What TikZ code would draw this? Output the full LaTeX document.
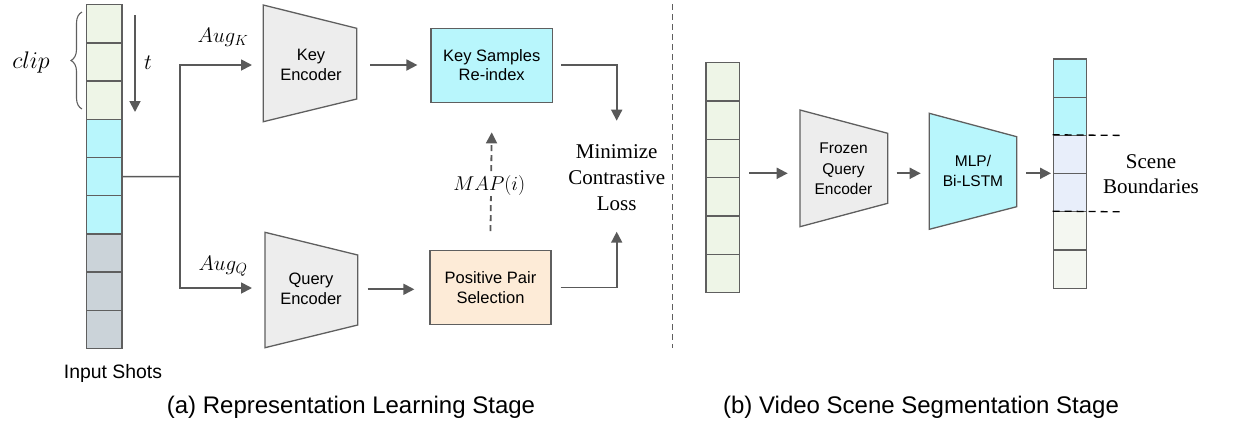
\RequirePackage{fix-cm}
\documentclass[tikz,border=0pt]{standalone}
\usepackage{fontspec}
\setmainfont{Liberation Serif}
\newfontfamily\sansf{Liberation Sans}
\usetikzlibrary{arrows.meta,decorations.pathreplacing}

\definecolor{edgegray}{HTML}{5F5F5F}
\definecolor{arrowgray}{HTML}{595959}
\definecolor{cellgreen}{HTML}{EEF5E7}
\definecolor{cellcyan}{HTML}{B8F6FC}
\definecolor{cellslate}{HTML}{CBD3D9}
\definecolor{cellblue}{HTML}{E8EEFA}
\definecolor{cellpale}{HTML}{F4F7F1}
\definecolor{encfill}{HTML}{EDEDED}
\definecolor{peach}{HTML}{FDEBD7}

\tikzset{
  cell/.style={draw=edgegray, line width=1.3pt, minimum width=33.5pt, minimum height=38.2pt, inner sep=0pt},
  enc/.style={draw=edgegray, line width=1.3pt, line join=miter},
  box/.style={draw=edgegray, line width=1.3pt, inner sep=0pt, align=center,
    font=\sansf\fontsize{16.5}{19.5}\selectfont},
  enclabel/.style={align=center, font=\sansf\fontsize{16.5}{19.5}\selectfont},
  arr/.style={draw=arrowgray, line width=1.8pt, -{Triangle[length=11pt,width=11pt]}},
  link/.style={draw=arrowgray, line width=1.6pt},
  serif/.style={align=center, font=\fontsize{21}{26}\selectfont},
  caption/.style={font=\sansf\fontsize{24}{28}\selectfont}
}

\begin{document}
\begin{tikzpicture}[x=1pt,y=-1pt]
\useasboundingbox (0,0) rectangle (1233,421);

% ---------- (a) representation learning ----------
% input shot column
\foreach \i/\c in {0/cellgreen,1/cellgreen,2/cellgreen,3/cellcyan,4/cellcyan,5/cellcyan,6/cellslate,7/cellslate,8/cellslate}
  \node[cell, fill=\c, minimum width=35.3pt] (in\i) at (104.3, 23.8+38.2*\i) {};
\node[font=\sansf\fontsize{19.4}{22}\selectfont] (inlabel) at (113,373) {Input Shots};

% clip brace and time arrow
\draw[edgegray, line width=1.1pt, decorate, decoration={brace, amplitude=11pt}] (82,109) -- (82,12);
\node[font=\fontsize{24}{26}\selectfont] (cliplabel) at (31,62) {$clip$};
\coordinate (t0) at (135,15);
\coordinate (t1) at (135,112);
\draw[arr] (t0) -- (t1);
\node[font=\fontsize{22}{24}\selectfont] (tlabel) at (148,63) {$t$};

% split into key / query branches
\coordinate (split) at (180,176.6);
\coordinate (kin) at (252,65);
\coordinate (qin) at (252,288);
\draw[link] (in4.east) -- (split);
\draw[arr] (split) |- (kin);
\draw[arr] (split) |- (qin);
\node[font=\fontsize{21}{24}\selectfont] (augk) at (223,37) {$Aug_K$};
\node[font=\fontsize{21}{24}\selectfont] (augq) at (223,266) {$Aug_Q$};

% key encoder
\draw[enc, fill=encfill] (263.3,5) -- (356.7,28.3) -- (356.7,99) -- (263.3,121.7) -- cycle;
\node[enclabel] (keyenc) at (311,65) {Key\\Encoder};
\coordinate (keyout) at (370,65);

% query encoder
\draw[enc, fill=encfill] (265,232.3) -- (357.7,255) -- (357.7,325) -- (265,347.7) -- cycle;
\node[enclabel] (qenc) at (311,289) {Query\\Encoder};
\coordinate (qout) at (367.7,289.3);

% key samples / positive pairs
\node[box, fill=cellcyan, minimum width=121.3pt, minimum height=74pt] (ksr) at (491.7,65.3) {Key Samples\\Re-index};
\node[box, fill=peach, minimum width=121pt, minimum height=73.6pt] (pps) at (490.5,287.5) {Positive Pair\\Selection};

\draw[arr] (keyout) -- ([xshift=-13pt]ksr.west |- keyout);
\draw[arr] (qout) -- ([xshift=-15pt]pps.west |- qout);

% MAP(i) dashed link
\draw[arr, dash pattern=on 6pt off 4pt] ([yshift=19pt]pps.north) -- ([yshift=-29.4pt]ksr.south);
\node[fill=white, inner sep=1pt, font=\fontsize{20}{22}\selectfont] (map) at (489.3,185) {$MAP(i)$};

% contrastive loss
\node[serif] (loss) at (616.7,178) {Minimize\\Contrastive\\Loss};
\coordinate (losstop) at (616.7,120.7);
\coordinate (lossbot) at (616.7,231.7);
\draw[arr] ([xshift=8pt]ksr.east) -| (losstop);
\draw[arr] ([xshift=9pt]pps.east) -| (lossbot);

% stage divider
\coordinate (d0) at (672.7,4);
\coordinate (d1) at (672.7,348);
\draw[edgegray, line width=1.3pt, dash pattern=on 6pt off 4pt] (d0) -- (d1);

% ---------- (b) video scene segmentation ----------
\foreach \i in {0,...,5}
  \node[cell, fill=cellgreen] (vs\i) at (722.7, 81.85+38.3*\i) {};

\foreach \i/\c in {0/cellcyan,1/cellcyan,2/cellblue,3/cellblue,4/cellpale,5/cellpale}
  \node[cell, fill=\c] (out\i) at (1070, 78.1+38.2*\i) {};

% frozen query encoder
\draw[enc, fill=encfill] (800,110) -- (887.7,133.3) -- (887.7,203.3) -- (800,226.7) -- cycle;
\node[enclabel, font=\sansf\fontsize{15.5}{20.5}\selectfont] (fqe) at (843.5,169) {Frozen\\Query\\Encoder};

% MLP / Bi-LSTM head
\draw[enc, fill=cellcyan] (929.3,113.3) -- (1016.7,136.7) -- (1016.7,206.7) -- (929.3,229.3) -- cycle;
\node[enclabel, font=\sansf\fontsize{15.5}{20.5}\selectfont] (head) at (973,171) {MLP/\\Bi-LSTM};

\coordinate (a1s) at (749.3,173.3);
\coordinate (a1e) at (787.7,173.3);
\coordinate (a2s) at (896.7,173.3);
\coordinate (a2e) at (920.7,173.3);
\coordinate (a3s) at (1026,173.3);
\coordinate (a3e) at (1051,173.3);
\draw[arr] (a1s) -- (a1e);
\draw[arr] (a2s) -- (a2e);
\draw[arr] (a3s) -- (a3e);

% scene boundaries
\coordinate (b1) at (1120,135.4);
\coordinate (b2) at (1120,211.8);
\draw[black, line width=1.3pt, dash pattern=on 7pt off 5pt] (out2.north west) -- (b1);
\draw[black, line width=1.3pt, dash pattern=on 7pt off 5pt] (out4.north west) -- (b2);
\node[serif, font=\fontsize{21}{25}\selectfont] (sb) at (1151,174) {Scene\\Boundaries};

% captions
\node[caption] (capa) at (351,407) {(a) Representation Learning Stage};
\node[caption] (capb) at (921,407) {(b) Video Scene Segmentation Stage};
\end{tikzpicture}
\end{document}
